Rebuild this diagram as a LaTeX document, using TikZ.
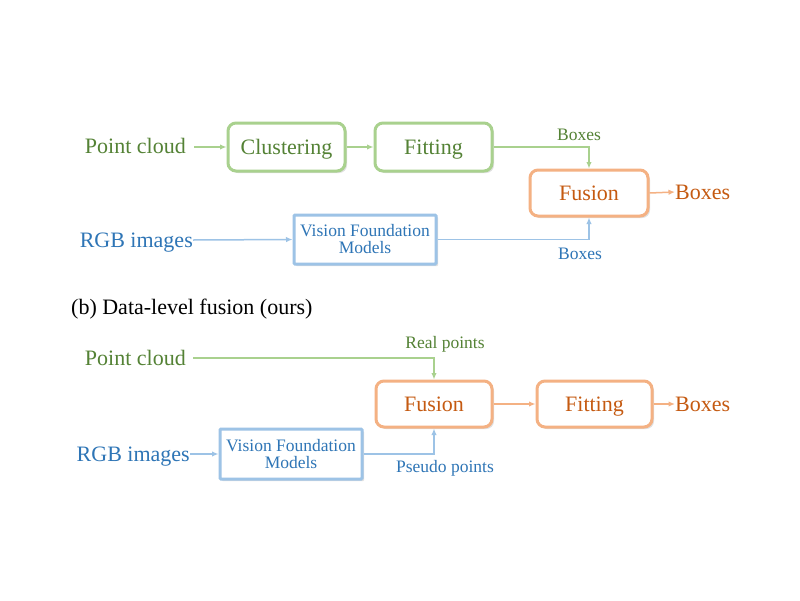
\documentclass[tikz,border=0pt]{standalone}
\usepackage{fontspec}
\setmainfont{Liberation Serif}
\newfontfamily\tmsfont{Liberation Serif}
\usetikzlibrary{arrows.meta,shadows}
\definecolor{gline}{HTML}{A9D18E}
\definecolor{gtext}{HTML}{548235}
\definecolor{bline}{HTML}{9DC3E6}
\definecolor{btext}{HTML}{2E75B6}
\definecolor{oline}{HTML}{F4B183}
\definecolor{otext}{HTML}{C55A11}
\tikzset{
  big/.style={font=\tmsfont\fontsize{22}{24}\selectfont, text height=19pt, text depth=4pt},
  small/.style={font=\tmsfont\fontsize{17.5}{19}\selectfont},
  boxbase/.style={draw, line width=3pt, fill=white, inner sep=0pt,
    drop shadow={shadow xshift=2pt, shadow yshift=-2pt, opacity=0.25, fill=gray}},
  gbox/.style={boxbase, draw=gline, text=gtext, rounded corners=8pt, big},
  obox/.style={boxbase, draw=oline, text=otext, rounded corners=8pt, big},
  bbox/.style={boxbase, draw=bline, text=btext, rounded corners=1pt, small, align=center},
  lbl/.style={inner sep=0pt},
  tip/.style={-{Latex[length=6.5pt,width=5.5pt]}},
  garrow/.style={draw=gline, line width=1.5pt},
  barrow/.style={draw=bline, line width=1.5pt},
  oarrow/.style={draw=oline, line width=1.5pt},
}
\begin{document}
\begin{tikzpicture}[x=1pt,y=-1pt]
\useasboundingbox[fill=white] (0,0) rectangle (800,600);

% ---------- top (a) ----------
\node[lbl, big, text=gtext, anchor=east] (pc1) at (186,146) {Point cloud};
\node[gbox, minimum width=117pt, minimum height=48pt] (clu) at (286.5,147) {Clustering};
\node[gbox, minimum width=117pt, minimum height=48pt] (fit1) at (433.5,147) {Fitting};
\node[obox, minimum width=118pt, minimum height=46pt] (fus1) at (589,193) {Fusion};
\node[lbl, big, text=otext, anchor=west] (out1) at (675,192) {Boxes};
\node[lbl, big, text=btext, anchor=east] (rgb1) at (193,240) {RGB images};
\node[bbox, minimum width=142pt, minimum height=49pt] (vfm1) at (365,239.5) {Vision Foundation\\[-2pt]Models};
\node[lbl, small, text=gtext] (lb1) at (579,135) {Boxes};
\node[lbl, small, text=btext] (lb2) at (580,254) {Boxes};

\draw[garrow, tip] (pc1.east) ++(8,1) -- (clu.west);
\draw[garrow, tip] (clu.east) -- (fit1.west);
\draw[garrow, tip] (fit1.east) -| (fus1.north);
\draw[barrow, tip] (rgb1.east) -- (vfm1.west);
\draw[barrow, tip] (vfm1.east) -| (fus1.south);
\draw[oarrow, tip] (fus1.east) -- (out1.west);

% ---------- caption ----------
\node[lbl, big, anchor=west] (cap) at (71,307) {(b) Data-level fusion (ours)};

% ---------- bottom (b) ----------
\node[lbl, big, text=gtext, anchor=east] (pc2) at (186,358) {Point cloud};
\node[obox, minimum width=116pt, minimum height=46pt] (fus2) at (434,404) {Fusion};
\node[obox, minimum width=115pt, minimum height=46pt] (fit2) at (594.5,404) {Fitting};
\node[lbl, big, text=otext, anchor=west] (out2) at (675,404) {Boxes};
\node[lbl, big, text=btext, anchor=east] (rgb2) at (190,454) {RGB images};
\node[bbox, minimum width=142pt, minimum height=50pt] (vfm2) at (291,454) {Vision Foundation\\[-2pt]Models};
\node[lbl, small, text=gtext] (lb3) at (445,344) {Real points};
\node[lbl, small, text=btext] (lb4) at (445,468) {Pseudo points};

\draw[garrow, tip] (pc2.east) ++(7,0) -| (fus2.north);
\draw[barrow, tip] (rgb2.east) -- (vfm2.west);
\draw[barrow, tip] (vfm2.east) -| (fus2.south);
\draw[oarrow, tip] (fus2.east) -- (fit2.west);
\draw[oarrow, tip] (fit2.east) -- (out2.west);
\end{tikzpicture}
\end{document}
